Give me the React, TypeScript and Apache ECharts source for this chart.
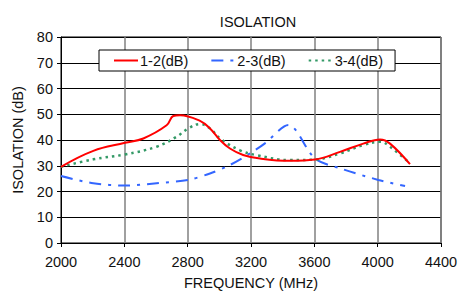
import React, { useEffect, useRef } from "react";
import * as echarts from "echarts";

const freq12 = [2000, 2204, 2404, 2520, 2667, 2709, 2752, 2878, 2941, 3004, 3067, 3150, 3257, 3446, 3604, 3762, 3909, 4015, 4078, 4204];
const iso12 = [29.6, 35.8, 38.9, 40.6, 45.7, 49.3, 49.6, 47.4, 44.5, 40, 36.7, 34.2, 32.8, 31.9, 32.4, 35.4, 38.6, 40.2, 38.6, 30.6];

const freq23 = [2000, 2204, 2404, 2604, 2804, 2941, 3067, 3194, 3288, 3436, 3604, 3762, 4004, 4173];
const iso23 = [26, 23.2, 22.3, 23.2, 24.5, 27, 30.3, 34.8, 38.7, 45.8, 32.8, 29, 24.5, 22.1];

const freq34 = [2000, 2204, 2404, 2604, 2731, 2804, 2878, 2941, 3004, 3131, 3236, 3446, 3604, 3762, 3909, 4015, 4078, 4204];
const iso34 = [29.6, 32.5, 34.4, 37.4, 41.3, 44.5, 46.2, 44.5, 40.6, 36, 34.1, 32.2, 32.4, 34.8, 38, 39.3, 37.4, 30.9];

const seriesNames = ["1-2(dB)", "2-3(dB)", "3-4(dB)"];

const zip = (xs: number[], ys: number[]) => xs.map((x, i) => [x, ys[i]]);

export default function App() {
  const ref = useRef<HTMLDivElement>(null);
  useEffect(() => {
    const chart = echarts.init(ref.current!, null, { renderer: "svg" });
    const font = "Liberation Sans, Arial, sans-serif";
    const fs = 14.5;
    const txt = "#111";
    chart.setOption({
      animation: false,
      title: {
        text: "ISOLATION",
        left: 253,
        top: 9,
        textAlign: "center",
        textStyle: { fontFamily: font, fontSize: fs, fontWeight: "normal", color: txt },
      },
      legend: {
        left: 99,
        top: 50,
        orient: "horizontal",
        padding: [3, 12, 3, 14],
        itemGap: 22,
        borderColor: "#000",
        borderWidth: 1,
        backgroundColor: "#fff",
        itemWidth: 24,
        itemHeight: 10,
        itemStyle: { opacity: 0 },
        textStyle: { fontFamily: font, fontSize: fs, color: txt, padding: [0, 0, 0, -3] },
        data: seriesNames,
      },
      grid: {
        left: 61,
        right: 17,
        top: 37,
        bottom: 48,
        show: true,
        containLabel: false,
        outerBoundsMode: "none",
        borderColor: "#000",
        borderWidth: 1,
      },
      xAxis: {
        type: "value",
        min: 2000,
        max: 4400,
        interval: 400,
        name: "FREQUENCY (MHz)",
        nameLocation: "middle",
        nameGap: 32,
        nameTextStyle: { fontFamily: font, fontSize: fs, color: txt },
        axisLine: { show: true, lineStyle: { color: "#000" } },
        axisTick: { show: true, inside: false, length: 4, lineStyle: { color: "#000" } },
        axisLabel: { fontFamily: font, fontSize: fs, color: txt, margin: 11, formatter: (v: number) => String(v) },
        splitLine: { show: true, lineStyle: { color: "#808080", width: 1.5 } },
      },
      yAxis: {
        type: "value",
        min: 0,
        max: 80,
        interval: 10,
        name: "ISOLATION (dB)",
        nameLocation: "middle",
        nameGap: 34,
        nameTextStyle: { fontFamily: font, fontSize: fs, color: txt },
        axisLine: { show: true, lineStyle: { color: "#000" } },
        axisTick: { show: true, inside: false, length: 4, lineStyle: { color: "#000" } },
        axisLabel: { fontFamily: font, fontSize: fs, color: txt, margin: 8 },
        splitLine: { show: true, lineStyle: { color: "#000", width: 1 } },
      },
      series: [
        {
          name: seriesNames[0],
          type: "line",
          smooth: 0.4,
          showSymbol: false,
          symbol: "none",
          data: zip(freq12, iso12),
          itemStyle: { color: "#ff0000" },
          lineStyle: { color: "#ff0000", width: 2 },
          z: 3,
        },
        {
          name: seriesNames[1],
          type: "line",
          smooth: 0.3,
          showSymbol: false,
          symbol: "none",
          data: zip(freq23, iso23),
          itemStyle: { color: "#3366ff" },
          lineStyle: { color: "#3366ff", width: 2, type: [12, 7, 3, 7] },
          z: 2,
        },
        {
          name: seriesNames[2],
          type: "line",
          smooth: 0.4,
          showSymbol: false,
          symbol: "none",
          data: zip(freq34, iso34),
          itemStyle: { color: "#339966" },
          lineStyle: { color: "#339966", width: 2.5, type: [2.5, 4] },
          z: 2,
        },
      ],
    });
    return () => chart.dispose();
  }, []);
  return <div ref={ref} style={{ width: 458, height: 291, position: "absolute", left: 0, top: 0 }} />;
}
